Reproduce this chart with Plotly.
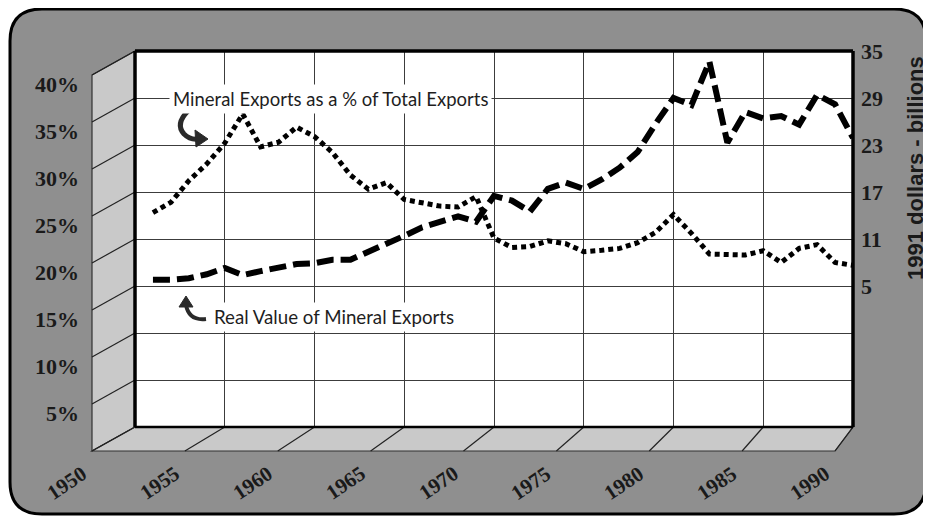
import plotly.graph_objects as go

# ---------------- data ----------------
years = list(range(1951, 1991))
pct_of_total = [22.8, 23.9, 26.2, 28.0, 30.2, 33.3, 29.8, 30.3, 31.9, 30.9,
                29.2, 26.8, 25.3, 26.0, 24.2, 23.9, 23.5, 23.4, 24.5, 20.1,
                19.1, 19.2, 19.8, 19.5, 18.65, 18.8, 19.0, 19.6, 20.7, 22.6,
                20.6, 18.4, 18.3, 18.3, 18.75, 17.5, 19.0, 19.4, 17.5, 17.2]
real_value = [5.8, 5.8, 6.0, 6.5, 7.3, 6.4, 6.9, 7.3, 7.8, 7.9,
              8.35, 8.35, 9.3, 10.3, 11.4, 12.5, 13.2, 13.9, 13.2, 16.5,
              15.9, 14.5, 17.4, 18.2, 17.4, 18.6, 20.1, 22.1, 25.7, 29.0,
              28.1, 33.65, 23.3, 27.2, 26.4, 26.7, 25.6, 29.4, 28.2, 23.9]
left_ticks = [5, 10, 15, 20, 25, 30, 35, 40]
left_labels = ["5%", "10%", "15%", "20%", "25%", "30%", "35%", "40%"]
right_ticks = [5, 11, 17, 23, 29, 35]
x_label_years = [1950, 1955, 1960, 1965, 1970, 1975, 1980, 1985, 1990]
right_title = "1991 dollars - billions"
label_pct = "Mineral Exports as a % of Total Exports"
label_real = "Real Value of Mineral Exports"

# ---------------- geometry (reference pixel frame) ----------------
OFF = 8                      # page body margin
W, H = 931 - OFF, 519 - OFF
L, R, T, B = 135, 853, 51, 427       # back wall (plot area)
FL, FR, FB = 92, 835, 451            # front edge of floor / side wall
X0, X1 = 1950, 1990
Y_RANGE = [0, 40]
Y2_RANGE = [-13, 35]


def px(x):
    return (x - OFF) / W


def py(y):
    return 1 - (y - OFF) / H


GRAY = "#8f8f8f"
PANEL = "#c9c9c9"
GRID = "#3c3c3c"

shapes = []
# outer rounded frame
x0, y0, x1, y1, r = 10, 9, 926, 514, 32
frame = (f"M {px(x0 + r)},{py(y0)} L {px(x1 - r)},{py(y0)} Q {px(x1)},{py(y0)} {px(x1)},{py(y0 + r)} "
         f"L {px(x1)},{py(y1 - r)} Q {px(x1)},{py(y1)} {px(x1 - r)},{py(y1)} "
         f"L {px(x0 + r)},{py(y1)} Q {px(x0)},{py(y1)} {px(x0)},{py(y1 - r)} "
         f"L {px(x0)},{py(y0 + r)} Q {px(x0)},{py(y0)} {px(x0 + r)},{py(y0)} Z")
shapes.append(dict(type="path", xref="paper", yref="paper", path=frame,
                   fillcolor=GRAY, line=dict(color="black", width=3), layer="below"))
# side wall
side = (f"M {px(FL)},{py(T + 24)} L {px(L)},{py(T)} L {px(L)},{py(B)} L {px(FL)},{py(FB)} Z")
shapes.append(dict(type="path", xref="paper", yref="paper", path=side,
                   fillcolor=PANEL, line=dict(color="#333", width=1.2), layer="below"))
# floor
floor = (f"M {px(FL)},{py(FB)} L {px(L)},{py(B)} L {px(R)},{py(B)} L {px(FR)},{py(FB)} Z")
shapes.append(dict(type="path", xref="paper", yref="paper", path=floor,
                   fillcolor=PANEL, line=dict(color="#333", width=1.2), layer="below"))
# back wall
shapes.append(dict(type="rect", xref="paper", yref="paper", x0=px(L), x1=px(R), y0=py(B), y1=py(T),
                   fillcolor="white", line=dict(width=0), layer="below"))

# slanted grid lines on the side wall
units_per_px = (Y_RANGE[1] - Y_RANGE[0]) / (B - T)
for v in [0] + left_ticks:
    shapes.append(dict(type="line", xref="paper", yref="y", x0=px(L), x1=px(FL),
                       y0=v, y1=v - 24 * units_per_px, line=dict(color="#222", width=1.2)))
# slanted lines on the floor
for yr in x_label_years:
    f = (yr - X0) / (X1 - X0)
    xb = L + f * (R - L)
    xf = FL + f * (FR - FL)
    shapes.append(dict(type="line", xref="paper", yref="paper", x0=px(xb), x1=px(xf),
                       y0=py(B), y1=py(FB), line=dict(color="#222", width=1.2)))
# thick back wall border
for (a, b, c, d, w) in [(L, T, R, T, 3.5), (L, T, L, B, 3.5), (R, T, R, B, 3.5), (L, B, R, B, 2.5)]:
    shapes.append(dict(type="line", xref="paper", yref="paper", x0=px(a), y0=py(b), x1=px(c), y1=py(d),
                       line=dict(color="black", width=w), layer="above"))

# curved pointer arrows next to the labels
arrow1 = (f"M {px(188)},{py(111)} Q {px(175)},{py(124)} {px(184)},{py(134)} "
          f"Q {px(190)},{py(140)} {px(198)},{py(139)}")
shapes.append(dict(type="path", xref="paper", yref="paper", path=arrow1,
                   line=dict(color="#2a2a2a", width=5)))
head1 = f"M {px(195)},{py(130)} L {px(208)},{py(139)} L {px(196)},{py(147)} Z"
shapes.append(dict(type="path", xref="paper", yref="paper", path=head1,
                   fillcolor="#2a2a2a", line=dict(color="#2a2a2a", width=1)))
arrow2 = (f"M {px(206)},{py(319)} Q {px(189)},{py(321)} {px(186)},{py(305)}")
shapes.append(dict(type="path", xref="paper", yref="paper", path=arrow2,
                   line=dict(color="#2a2a2a", width=4)))
head2 = f"M {px(179)},{py(307)} L {px(186)},{py(296)} L {px(193)},{py(307)} Z"
shapes.append(dict(type="path", xref="paper", yref="paper", path=head2,
                   fillcolor="#2a2a2a", line=dict(color="#2a2a2a", width=1)))

# ---------------- traces ----------------
fig = go.Figure()
fig.add_trace(go.Scatter(x=years, y=pct_of_total, mode="lines", name=label_pct,
                         line=dict(color="black", width=5, dash="5px,4px"), yaxis="y"))
fig.add_trace(go.Scatter(x=years, y=real_value, mode="lines", name=label_real,
                         line=dict(color="black", width=6, dash="17px,7px"), yaxis="y2"))

SERIF_B = dict(family="Liberation Serif", size=22, color="#1a1a1a", weight="bold")

annotations = []
for yr in x_label_years:
    f = (yr - X0) / (X1 - X0)
    xf = FL + f * (FR - FL)
    annotations.append(dict(xref="paper", yref="paper", x=px(xf + 2), y=py(459), text=str(yr),
                            showarrow=False, textangle=-34, xanchor="right", yanchor="top",
                            font=dict(family="Liberation Serif", size=21, color="#1a1a1a", weight="bold")))
annotations.append(dict(xref="paper", yref="paper", x=px(915), y=py(168), text=right_title,
                        showarrow=False, textangle=-90, xanchor="center", yanchor="middle",
                        font=dict(family="Liberation Sans", size=22, color="#1a1a1a", weight="bold")))
annotations.append(dict(xref="paper", yref="paper", x=px(330), y=py(99), text=label_pct,
                        showarrow=False, bgcolor="white", borderpad=3,
                        xanchor="center", yanchor="middle",
                        font=dict(family="Lato", size=18.5, color="#1e1e1e")))
annotations.append(dict(xref="paper", yref="paper", x=px(334), y=py(317), text=label_real,
                        showarrow=False, bgcolor="white", borderpad=3,
                        xanchor="center", yanchor="middle",
                        font=dict(family="Lato", size=18.7, color="#1e1e1e")))

fig.update_layout(
    width=W, height=H,
    margin=dict(l=0, r=0, t=0, b=0, pad=0, autoexpand=False),
    paper_bgcolor="white",
    plot_bgcolor="rgba(0,0,0,0)",
    showlegend=False,
    xaxis=dict(domain=[px(L), px(R)], range=[X0, X1], tickvals=x_label_years,
               showticklabels=False, showgrid=True, gridcolor=GRID, gridwidth=1,
               zeroline=False, ticks="", showline=False, automargin=False),
    yaxis=dict(domain=[py(B), py(T)], range=Y_RANGE, tickvals=left_ticks, ticktext=left_labels,
               showgrid=True, gridcolor=GRID, gridwidth=1, zeroline=False, ticks="",
               showline=False, tickfont=SERIF_B, ticklabelstandoff=55, ticklabelshift=33,
               automargin=False),
    yaxis2=dict(overlaying="y", side="right", anchor="x", range=Y2_RANGE, tickvals=right_ticks,
                showgrid=False, zeroline=False, ticks="", showline=False,
                tickfont=SERIF_B, ticklabelstandoff=7, automargin=False),
    shapes=shapes,
    annotations=annotations,
)

fig.write_html("out.html")
